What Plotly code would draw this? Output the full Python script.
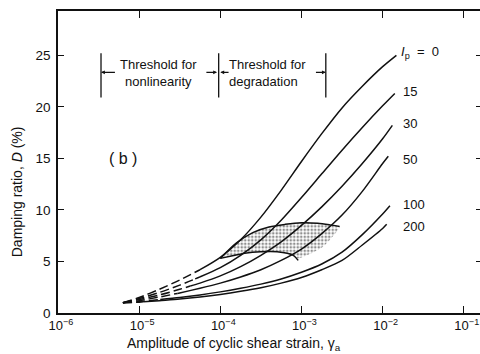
import plotly.graph_objects as go

# ---------------- data ----------------
ip_labels = ["0", "15", "30", "50", "100", "200"]
log_strain = {
    "0":   [-5.2, -5.0, -4.75, -4.5, -4.25, -4.0, -3.75, -3.5, -3.25, -3.0, -2.75, -2.5, -2.25, -2.0, -1.83],
    "15":  [-5.2, -5.0, -4.75, -4.5, -4.25, -4.0, -3.75, -3.5, -3.25, -3.0, -2.75, -2.5, -2.25, -2.0, -1.85],
    "30":  [-5.2, -5.0, -4.75, -4.5, -4.25, -4.0, -3.75, -3.5, -3.25, -3.0, -2.75, -2.5, -2.25, -2.0, -1.88],
    "50":  [-5.2, -5.0, -4.75, -4.5, -4.25, -4.0, -3.75, -3.5, -3.25, -3.0, -2.75, -2.5, -2.25, -2.0, -1.93],
    "100": [-5.2, -5.0, -4.75, -4.5, -4.25, -4.0, -3.75, -3.5, -3.25, -3.0, -2.75, -2.5, -2.25, -2.0, -1.91],
    "200": [-5.2, -5.0, -4.75, -4.5, -4.25, -4.0, -3.75, -3.5, -3.25, -3.0, -2.75, -2.5, -2.25, -2.0, -1.95],
}
damping = {
    "0":   [1.0, 1.5, 2.3, 3.2, 4.2, 5.4, 7.1, 9.3, 11.9, 14.7, 17.4, 19.9, 22.0, 23.9, 25.0],
    "15":  [1.0, 1.4, 2.0, 2.7, 3.5, 4.4, 5.6, 7.1, 9.0, 11.2, 13.5, 15.8, 18.0, 20.1, 21.3],
    "30":  [1.0, 1.3, 1.75, 2.3, 2.9, 3.6, 4.5, 5.6, 6.9, 8.5, 10.3, 12.3, 14.5, 16.9, 18.2],
    "50":  [1.0, 1.2, 1.55, 1.95, 2.4, 2.9, 3.5, 4.2, 5.1, 6.2, 7.7, 9.5, 11.8, 14.5, 15.2],
    "100": [1.0, 1.1, 1.3, 1.5, 1.75, 2.05, 2.4, 2.8, 3.3, 3.95, 4.75, 5.9, 7.6, 9.6, 10.4],
    "200": [1.0, 1.05, 1.2, 1.35, 1.55, 1.8, 2.1, 2.45, 2.9, 3.45, 4.2, 5.1, 6.6, 8.2, 8.6],
}
# log strain where each curve turns from dashed to solid
solid_from = {"0": -4.25, "15": -4.31, "30": -4.37, "50": -4.53, "100": -4.74, "200": -4.95}

# shaded (stippled) zone
zone_upper_log = [-4.0, -3.8, -3.6, -3.4, -3.2, -3.0, -2.8, -2.65, -2.53]
zone_upper_d = [5.3, 6.8, 7.8, 8.35, 8.6, 8.75, 8.7, 8.55, 8.4]
zone_right_log = [-2.53, -2.74, -3.04]
zone_right_d = [8.4, 6.4, 5.3]
zone_lower_log = [-3.04, -3.1, -3.3, -3.5, -3.7, -3.85, -4.0]
zone_lower_d = [5.1, 5.6, 5.95, 5.95, 5.8, 5.55, 5.3]

# threshold markers
threshold_log = [-5.47, -4.02, -2.70]
threshold_d = [20.9, 25.2]

x_tickvals = [-6, -5, -4, -3, -2, -1]
y_tickvals = [0, 5, 10, 15, 20, 25]

FONT = "Liberation Sans, Arial, sans-serif"
INK = "#111"

fig = go.Figure()

# stipple zone
poly_x = zone_upper_log + zone_right_log[1:] + zone_lower_log[1:]
poly_y = zone_upper_d + zone_right_d[1:] + zone_lower_d[1:]
fig.add_trace(go.Scatter(
    x=[10 ** v for v in poly_x], y=poly_y, mode="lines", fill="toself",
    line=dict(width=0, color="rgba(0,0,0,0)", shape="spline", smoothing=0.6),
    fillcolor="rgba(0,0,0,0)",
    fillpattern=dict(shape=".", size=3.5, solidity=0.45, fgcolor="#222", bgcolor="rgba(0,0,0,0)"),
    hoverinfo="skip", showlegend=False))
fig.add_trace(go.Scatter(x=[10 ** v for v in zone_upper_log], y=zone_upper_d, mode="lines",
                         line=dict(color=INK, width=1.5, shape="spline", smoothing=0.8), showlegend=False))
fig.add_trace(go.Scatter(x=[10 ** v for v in zone_lower_log], y=zone_lower_d, mode="lines",
                         line=dict(color=INK, width=1.5, shape="spline", smoothing=0.8), showlegend=False))

# curves
for ip in ip_labels:
    xs = log_strain[ip]
    ds = damping[ip]
    cut = solid_from[ip]
    for i in range(len(xs) - 1):
        if xs[i] <= cut <= xs[i + 1]:
            t = (cut - xs[i]) / (xs[i + 1] - xs[i])
            dcut = ds[i] + t * (ds[i + 1] - ds[i])
            dash_x = xs[: i + 1] + [cut]
            dash_y = ds[: i + 1] + [dcut]
            sol_x = [cut] + xs[i + 1:]
            sol_y = [dcut] + ds[i + 1:]
            break
    fig.add_trace(go.Scatter(x=[10 ** v for v in dash_x], y=dash_y, mode="lines",
                             line=dict(color=INK, width=1.5, dash="9px,4px", shape="spline", smoothing=0.8),
                             showlegend=False))
    fig.add_trace(go.Scatter(x=[10 ** v for v in sol_x], y=sol_y, mode="lines",
                             line=dict(color=INK, width=1.5, shape="spline", smoothing=0.8),
                             showlegend=False))

# threshold vertical bars
for tl in threshold_log:
    fig.add_trace(go.Scatter(x=[10 ** tl, 10 ** tl], y=threshold_d, mode="lines",
                             line=dict(color=INK, width=1.3), showlegend=False))

annotations = []
# curve labels
label_pos = {"15": 21.5, "30": 18.4, "50": 14.9, "100": 10.5, "200": 8.4}
for ip in ip_labels:
    if ip == "0":
        annotations.append(dict(x=-1.80, y=25.3, xref="x", yref="y",
                                text="<i>I</i><sub>p</sub>  =  0", showarrow=False,
                                xanchor="left", font=dict(size=13, family=FONT, color=INK)))
    else:
        annotations.append(dict(x=-1.77, y=label_pos[ip], xref="x", yref="y",
                                text=ip, showarrow=False, xanchor="left",
                                font=dict(size=13, family=FONT, color=INK)))

# threshold texts
annotations.append(dict(x=-4.756, y=23.3, xref="x", yref="y", text="Threshold for<br>nonlinearity",
                        showarrow=False, align="center", font=dict(size=13, family=FONT, color=INK)))
annotations.append(dict(x=-3.92, y=23.3, xref="x", yref="y", text="Threshold for<br>degradation",
                        showarrow=False, align="left", xanchor="left",
                        font=dict(size=13, family=FONT, color=INK)))
# arrows
arrow_defs = [(-5.47, -5.28), (-4.04, -4.19), (-4.00, -3.88), (-2.70, -2.84)]
for head, tail in arrow_defs:
    annotations.append(dict(x=head, y=23.35, ax=tail, ay=23.35, xref="x", yref="y",
                            axref="x", ayref="y", text="", showarrow=True,
                            arrowhead=2, arrowsize=0.7, arrowwidth=1.1, arrowcolor=INK))

annotations.append(dict(x=-5.2, y=15.0, xref="x", yref="y", text="( b )", showarrow=False,
                        font=dict(size=16, family=FONT, color=INK)))

# axis titles
annotations.append(dict(x=0.417, y=-0.101, xref="paper", yref="paper",
                        text="Amplitude of cyclic shear strain, γ<sub>a</sub>", showarrow=False,
                        yanchor="middle", font=dict(size=14, family=FONT, color=INK)))
annotations.append(dict(x=-0.097, y=0.40, xref="paper", yref="paper",
                        text="Damping ratio, <i>D</i> (%)", showarrow=False, textangle=-90,
                        xanchor="center", yanchor="middle", font=dict(size=14, family=FONT, color=INK)))

fig.update_layout(
    width=480, height=354,
    margin=dict(l=58, r=0, t=11, b=41),
    paper_bgcolor="white", plot_bgcolor="white",
    showlegend=False,
    font=dict(family=FONT, size=13, color=INK),
    annotations=annotations,
    xaxis=dict(type="log", range=[-6, -0.80], tickvals=[10 ** v for v in x_tickvals],
               ticktext=["10<sup>−%d</sup>" % (-v) for v in x_tickvals],
               ticks="inside", ticklen=7, tickcolor=INK, tickwidth=1.2,
               showline=True, linecolor=INK, linewidth=1.6, mirror="ticks",
               showgrid=False, zeroline=False, tickfont=dict(size=13),
               ticklabelshift=3),
    yaxis=dict(range=[0, 29.3], tickvals=y_tickvals, ticks="inside", ticklen=6,
               tickcolor=INK, tickwidth=1.2, showline=True, linecolor=INK,
               linewidth=1.6, showgrid=False, zeroline=False, tickfont=dict(size=13.5),
               ticklabelstandoff=3),
    yaxis2=dict(range=[0, 29.3], tickvals=y_tickvals, ticks="inside", ticklen=4,
                tickcolor=INK, overlaying="y", side="right", showticklabels=False,
                showgrid=False, zeroline=False, showline=False),
)
fig.add_trace(go.Scatter(x=[1e-6], y=[0], yaxis="y2", mode="markers",
                         marker=dict(opacity=0), hoverinfo="skip", showlegend=False))

fig.write_html("out.html")
